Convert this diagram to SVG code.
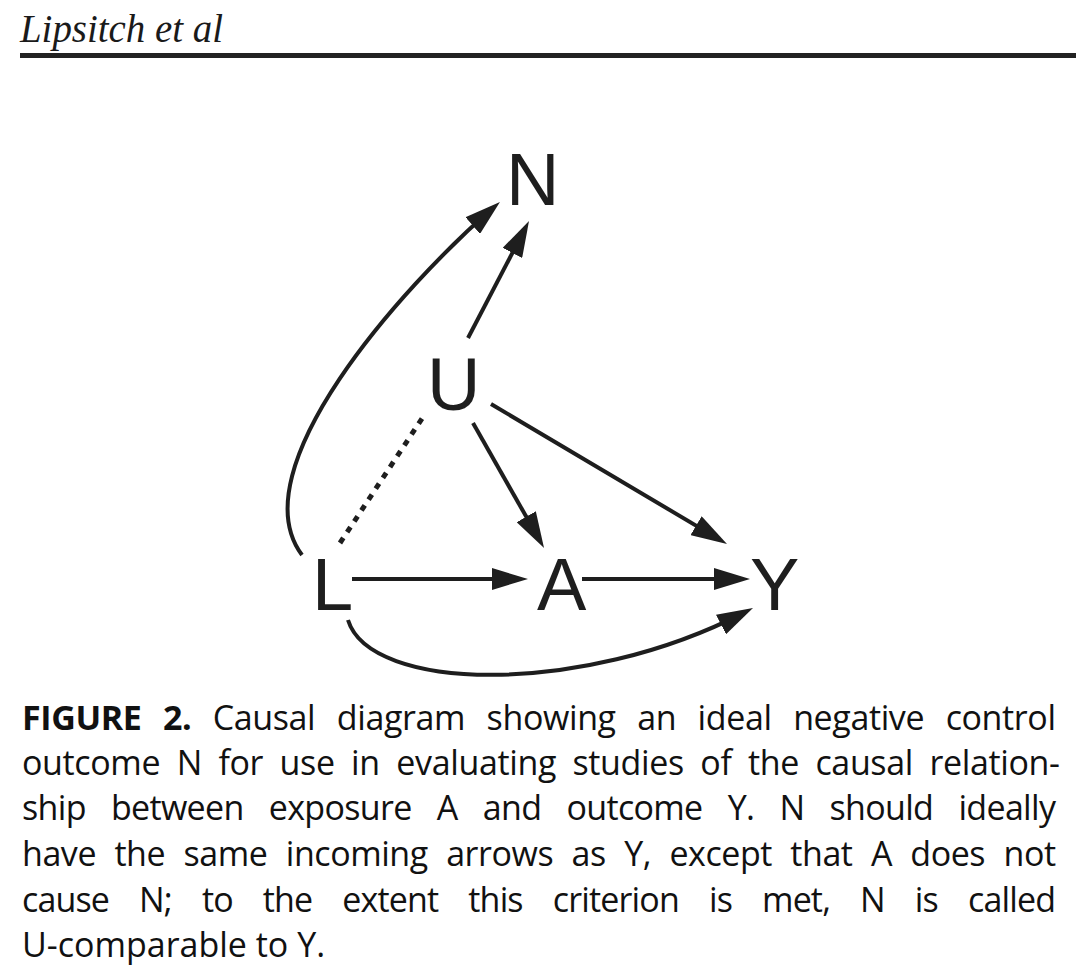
<svg xmlns="http://www.w3.org/2000/svg" width="1076" height="976" viewBox="0 0 1076 976">
<style>
.hdr{font-family:"Liberation Serif",serif;font-style:italic;font-size:40px;fill:#1a1a1a}
.node{font-family:"Liberation Sans",Arial,sans-serif;font-size:74px;fill:#1e1e1e}
.edge{fill:none;stroke:#1e1e1e;stroke-width:4}
.arr{marker-end:url(#ah)}
.dash{stroke-dasharray:6 7;stroke-width:5}
.cap{font-family:"Open Sans","Noto Sans",sans-serif;font-size:34px;font-weight:500;fill:#111}
.b{font-weight:bold}
</style>
<defs>
<marker id="ah" markerUnits="userSpaceOnUse" markerWidth="36" markerHeight="22" viewBox="0 0 36 22" refX="26" refY="11" orient="auto">
<path d="M0,0 L36,11 L0,22 Z" fill="#1e1e1e"/>
</marker>
</defs>
<rect width="1076" height="976" fill="#ffffff"/>
<g id="header">
<text class="hdr" x="20" y="42" textLength="203" lengthAdjust="spacingAndGlyphs">Lipsitch et al</text>
<rect x="20" y="53" width="1056" height="5" fill="#222"/>
</g>
<g id="connectors">
<path class="edge arr" d="M352,579 L518,579"/>
<path class="edge arr" d="M582,579 L740,579"/>
<path class="edge arr" d="M473,423 L539.1,539.3"/>
<path class="edge arr" d="M491,404 L718.4,538.9"/>
<path class="edge arr" d="M468,338 L524.4,229.9"/>
<path class="edge arr" d="M302,555 C238,470 402.4,286.6 492.4,208.6"/>
<path class="edge arr" d="M348,620 C370,692 581.1,696.6 744.1,612.6"/>
<path class="edge dash" d="M340,543 L423,417"/>
</g>
<g id="node-N"><text class="node" x="506" y="205">N</text></g>
<g id="node-U"><text class="node" x="427" y="410">U</text></g>
<g id="node-L"><text class="node" x="312" y="610">L</text></g>
<g id="node-A"><text class="node" x="537" y="610">A</text></g>
<g id="node-Y"><text class="node" x="750" y="610">Y</text></g>
<g id="caption">
<text class="cap" x="22" y="730" textLength="1034" lengthAdjust="spacing" word-spacing="13"><tspan class="b">FIGURE 2.</tspan> Causal diagram showing an ideal negative control</text>
<text class="cap" x="22" y="775" textLength="1038" lengthAdjust="spacing" word-spacing="8">outcome N for use in evaluating studies of the causal relation-</text>
<text class="cap" x="22" y="820" textLength="1034" lengthAdjust="spacing" word-spacing="17">ship between exposure A and outcome Y. N should ideally</text>
<text class="cap" x="22" y="866" textLength="1034" lengthAdjust="spacing" word-spacing="10">have the same incoming arrows as Y, except that A does not</text>
<text class="cap" x="22" y="912" textLength="1034" lengthAdjust="spacing" word-spacing="22">cause N; to the extent this criterion is met, N is called</text>
<text class="cap" x="22" y="957">U-comparable to Y.</text>
</g>
</svg>
